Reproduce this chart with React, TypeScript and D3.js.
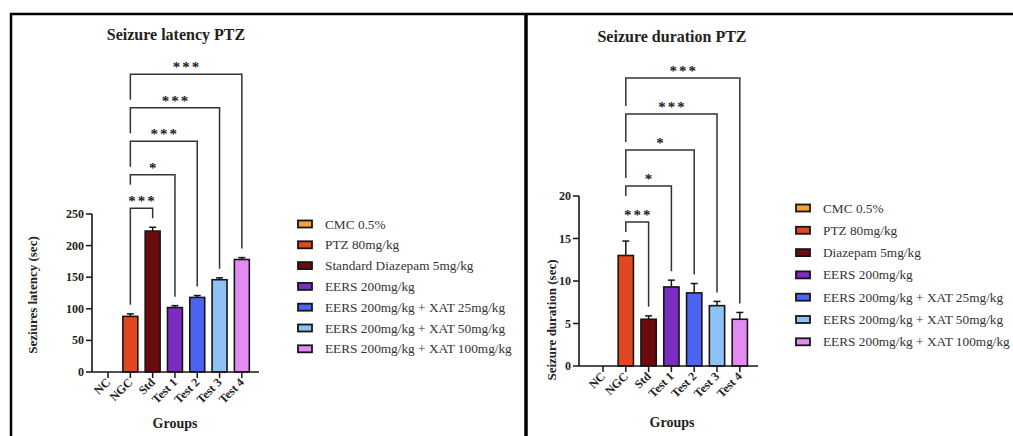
import React from 'react';
import * as d3 from 'd3';

// groups on the x axis
const groups = ['NC', 'NGC', 'Std', 'Test 1', 'Test 2', 'Test 3', 'Test 4'];
const groupColors = ['#F5A03A', '#E2481F', '#6A0B0E', '#7A2DBF', '#4D63F2', '#8EC1F6', '#E28CF2'];

// seizure latency (sec), mean and SEM
const latencyMean = [0, 88, 223, 102, 118, 146, 178];
const latencyErr = [0, 4, 6, 3, 3, 3, 3];
const latencyTicks = [0, 50, 100, 150, 200, 250];
const latencySig = ['***', '*', '***', '***', '***']; // NGC vs Std, Test 1..4
const latencyLegend = [
  'CMC 0.5%',
  'PTZ 80mg/kg',
  'Standard Diazepam 5mg/kg',
  'EERS 200mg/kg',
  'EERS 200mg/kg + XAT 25mg/kg',
  'EERS 200mg/kg + XAT 50mg/kg',
  'EERS 200mg/kg + XAT 100mg/kg',
];

// seizure duration (sec), mean and SEM
const durationMean = [0, 13.0, 5.5, 9.3, 8.6, 7.1, 5.5];
const durationErr = [0, 1.7, 0.4, 0.8, 1.1, 0.5, 0.8];
const durationTicks = [0, 5, 10, 15, 20];
const durationSig = ['***', '*', '*', '***', '***'];
const durationLegend = [
  'CMC 0.5%',
  'PTZ 80mg/kg',
  'Diazepam 5mg/kg',
  'EERS 200mg/kg',
  'EERS 200mg/kg + XAT 25mg/kg',
  'EERS 200mg/kg + XAT 50mg/kg',
  'EERS 200mg/kg + XAT 100mg/kg',
];

const SERIF = '"Liberation Serif", "Times New Roman", serif';
const INK = '#161616';

type Layout = {
  axisX: number; y0: number; yTop: number;
  bandStart: number; bandEnd: number; axisEnd: number;
  titleX: number; titleY: number;
  yLabelX: number; yLabelY: number;
  groupsX: number; groupsY: number;
  legendX: number; legendY: number; legendStep: number;
  step: number;
};

type PanelProps = {
  title: string; yLabel: string;
  means: number[]; errs: number[]; ticks: number[];
  sig: string[]; legend: string[]; lay: Layout;
};

function Panel({ title, yLabel, means, errs, ticks, sig, legend, lay }: PanelProps) {
  const y = d3.scaleLinear().domain([0, d3.max(ticks) as number]).range([lay.y0, lay.yTop]);
  const x = d3.scaleBand<string>().domain(groups).range([lay.bandStart, lay.bandEnd]).paddingInner(0.33).paddingOuter(0.165);
  const bw = x.bandwidth();
  const cx = (g: string) => (x(g) as number) + bw / 2;
  const topOf = (i: number) => y(means[i] + errs[i]);

  // significance brackets, NGC vs each later group, stacked upwards
  const x1 = cx(groups[1]);
  const brackets: { x2: number; top: number; rightEnd: number; leftEnd: number; label: string }[] = [];
  sig.forEach((label, k) => {
    const target = k + 2;
    const x2 = cx(groups[target]);
    let hi = Infinity;
    for (let i = 1; i <= target; i++) hi = Math.min(hi, topOf(i));
    let top = hi - 19;
    if (k > 0) top = Math.min(top, brackets[k - 1].top - lay.step);
    let leftEnd = topOf(1) - 9;
    if (k > 0) {
      const prev = brackets[k - 1];
      const c = (x1 + prev.x2) / 2;
      const half = prev.label.length > 1 ? 12 : 4;
      leftEnd = x1 >= c - half - 2 ? top + 10 : prev.top - 8;
    }
    brackets.push({ x2, top, rightEnd: topOf(target) - 9, leftEnd, label });
  });

  return (
    <g fontFamily={SERIF}>
      <text x={lay.titleX} y={lay.titleY} textAnchor="middle" fontWeight="bold" fontSize={16} fill="#222">{title}</text>

      {/* bars */}
      {groups.map((g, i) => means[i] > 0 && (
        <g key={g}>
          <line x1={cx(g)} x2={cx(g)} y1={y(means[i])} y2={topOf(i)} stroke={INK} strokeWidth={1.5} />
          <line x1={cx(g) - 3.5} x2={cx(g) + 3.5} y1={topOf(i)} y2={topOf(i)} stroke={INK} strokeWidth={1.5} />
          <rect x={x(g)} y={y(means[i])} width={bw} height={lay.y0 - y(means[i])}
            fill={groupColors[i]} stroke={INK} strokeWidth={1.6} />
        </g>
      ))}

      {/* y axis */}
      <line x1={lay.axisX} x2={lay.axisX} y1={lay.y0} y2={lay.yTop} stroke={INK} strokeWidth={1.6} />
      {ticks.map(t => (
        <g key={t}>
          <line x1={lay.axisX - 6} x2={lay.axisX} y1={y(t)} y2={y(t)} stroke={INK} strokeWidth={1.5} />
          <text x={lay.axisX - 8} y={y(t) + 4} textAnchor="end" fontWeight="bold" fontSize={12} fill="#222">{t}</text>
        </g>
      ))}
      <text transform={`translate(${lay.yLabelX},${lay.yLabelY}) rotate(-90)`} textAnchor="middle"
        fontWeight="bold" fontSize={13} fill="#222">{yLabel}</text>

      {/* x axis */}
      <line x1={lay.axisX} x2={lay.axisEnd} y1={lay.y0} y2={lay.y0} stroke={INK} strokeWidth={1.6} />
      {groups.map(g => (
        <g key={g}>
          <line x1={cx(g)} x2={cx(g)} y1={lay.y0} y2={lay.y0 + 6} stroke={INK} strokeWidth={1.5} />
          <text transform={`translate(${cx(g) + 3},${lay.y0 + 11}) rotate(-45)`} textAnchor="end"
            fontWeight="bold" fontSize={12} fill="#222">{g}</text>
        </g>
      ))}
      <text x={lay.groupsX} y={lay.groupsY} textAnchor="middle" fontWeight="bold" fontSize={14} fill="#222">Groups</text>

      {/* brackets */}
      {brackets.map((b, k) => (
        <g key={k}>
          <path d={`M${x1},${b.leftEnd}V${b.top}H${b.x2}V${b.rightEnd}`} fill="none" stroke="#333" strokeWidth={1.5} />
          <text x={(x1 + b.x2) / 2 + 1} y={b.top - 2} textAnchor="middle" fontWeight="bold" fontSize={15}
            letterSpacing={2} fill="#222">{b.label}</text>
        </g>
      ))}

      {/* legend */}
      {legend.map((name, i) => (
        <g key={name} transform={`translate(${lay.legendX},${lay.legendY + i * lay.legendStep})`}>
          <rect x={0} y={-3.5} width={14} height={7} fill={groupColors[i]} stroke={INK} strokeWidth={1.8} />
          <text x={27} y={4.5} fontSize={13.3} fill="#333">{name}</text>
        </g>
      ))}
    </g>
  );
}

const leftLayout: Layout = {
  axisX: 92, y0: 372, yTop: 214, bandStart: 96.9, bandEnd: 253, axisEnd: 259,
  titleX: 176, titleY: 40, yLabelX: 37, yLabelY: 295, groupsX: 175, groupsY: 428,
  legendX: 298, legendY: 224, legendStep: 20.8, step: 33.5,
};

const rightLayout: Layout = {
  axisX: 579, y0: 366, yTop: 196, bandStart: 591.6, bandEnd: 751.2, axisEnd: 758,
  titleX: 672, titleY: 42, yLabelX: 556, yLabelY: 320, groupsX: 672, groupsY: 427,
  legendX: 796, legendY: 208, legendStep: 22.3, step: 36,
};

export default function App() {
  return (
    <svg width={1013} height={436} style={{ position: 'absolute', left: 0, top: 0, background: '#fff' }}>
      <rect width={1013} height={436} fill="#fff" />
      {/* panel frames */}
      <line x1={10} x2={1013} y1={14} y2={14} stroke="#000" strokeWidth={2.5} />
      <line x1={11} x2={11} y1={13} y2={436} stroke="#000" strokeWidth={2.5} />
      <line x1={526} x2={526} y1={13} y2={436} stroke="#000" strokeWidth={3.5} />
      <Panel title="Seizure latency PTZ" yLabel="Seziures latency (sec)" means={latencyMean} errs={latencyErr}
        ticks={latencyTicks} sig={latencySig} legend={latencyLegend} lay={leftLayout} />
      <Panel title="Seizure duration PTZ" yLabel="Seizure duration (sec)" means={durationMean} errs={durationErr}
        ticks={durationTicks} sig={durationSig} legend={durationLegend} lay={rightLayout} />
    </svg>
  );
}
